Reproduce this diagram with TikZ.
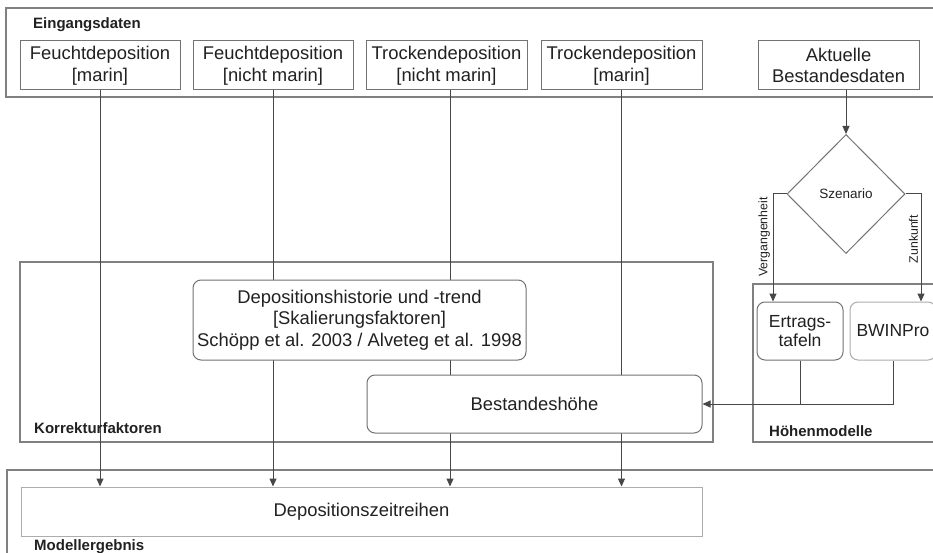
\documentclass[tikz,border=0pt]{standalone}
\usepackage{fontspec}
\setmainfont{Liberation Sans}
\usetikzlibrary{shapes.geometric,arrows.meta}
\pgfdeclarelayer{bg}
\pgfsetlayers{bg,main}
\definecolor{framec}{gray}{0.5}
\definecolor{boxc}{gray}{0.45}
\definecolor{lightc}{gray}{0.68}
\definecolor{linec}{gray}{0.28}
\definecolor{txtc}{gray}{0.13}
\newcommand\myboxfont{\fontsize{18.4}{21.5}\selectfont}
\newcommand\mysmallboxfont{\fontsize{17.5}{19}\selectfont}
\newcommand\mylblfont{\fontsize{15}{18}\selectfont\bfseries}
\newcommand\myszfont{\fontsize{13.5}{16}\selectfont}
\newcommand\myrotfont{\fontsize{12.3}{14}\selectfont}
\begin{document}
\begin{tikzpicture}[x=1pt,y=-1pt,
  box/.style={draw=boxc, fill=white, line width=1pt, inner sep=0pt, align=center, font=\myboxfont, text=txtc},
  rbox/.style={box, rounded corners=8pt},
  conn/.style={draw=linec, line width=1pt},
  arr/.style={conn, -{Triangle[length=8pt,width=7pt]}},
  frame/.style={draw=framec, line width=1.2pt},
  framelbl/.style={font=\mylblfont, text=txtc, anchor=west, inner sep=0pt},
  rotlbl/.style={font=\myrotfont, text=txtc, rotate=90, anchor=south, inner sep=2.5pt}]
\useasboundingbox (0,0) rectangle (933,553);
\clip (0,0) rectangle (933,553);

% input boxes
\node[box, minimum width=160pt, minimum height=49pt] (f1) at (100,65.5) {Feuchtdeposition\\{[marin]}};
\node[box, minimum width=160pt, minimum height=49pt] (f2) at (273,65.5) {Feuchtdeposition\\{[nicht marin]}};
\node[box, minimum width=161pt, minimum height=49pt] (f3) at (446.5,65.5) {Trockendeposition\\{[nicht marin]}};
\node[box, minimum width=161pt, minimum height=49pt] (f4) at (621.5,65.5) {Trockendeposition\\{[marin]}};
\node[box, minimum width=161pt, minimum height=49pt] (akt) at (838.5,65.5) {Aktuelle\\Bestandesdaten};

% scenario
\node[diamond, draw=boxc, fill=white, line width=1pt, minimum width=118pt, minimum height=119pt, inner sep=0pt, font=\myszfont, text=txtc] (sz) at (846,194) {Szenario};

% height models
\node[rbox, font=\mysmallboxfont, minimum width=86pt, minimum height=58pt] (ert) at (800,331) {Ertrags-\\tafeln};
\node[rbox, draw=lightc, font=\mysmallboxfont, minimum width=86pt, minimum height=58pt] (bw) at (893,331) {BWINPro};

% correction factors
\node[rbox, minimum width=333pt, minimum height=80pt] (dh) at (359.5,320) {Depositionshistorie und -trend\\{[Skalierungsfaktoren]}\\Schöpp et al. 2003 / Alveteg et al. 1998};
\node[rbox, minimum width=335pt, minimum height=58pt] (bh) at (534.5,404) {Bestandeshöhe};

% result
\node[box, draw=lightc, minimum width=681pt, minimum height=49pt] (dz) at (361.5,511.5) {Depositionszeitreihen};

% frame labels
\node[framelbl] (lE) at (33,25) {Eingangsdaten};
\node[framelbl] (lK) at (34,428) {Korrekturfaktoren};
\node[framelbl] (lH) at (769,431) {Höhenmodelle};
\node[framelbl] (lM) at (34,547) {Modellergebnis};

\coordinate (c3) at ([xshift=3.5pt]f3.south);

\begin{pgfonlayer}{bg}
\clip (0,0) rectangle (933,553);
\fill[white] (0,0) rectangle (933,553);
% frames
\draw[frame] (6,8) rectangle (950,97);
\draw[frame] (20,262) rectangle (713,442);
\draw[frame] (753,284) rectangle (950,442);
\draw[frame] (7,470) rectangle (950,570);
% connectors
\draw[arr] (f1.south) -- (f1.south |- dz.north);
\draw[arr] (f2.south) -- (f2.south |- dz.north);
\draw[arr] (c3) -- (c3 |- dz.north);
\draw[arr] (f4.south) -- (f4.south |- dz.north);
\draw[arr] (akt.south -| sz.north) -- (sz.north);
\draw[arr] (sz.west) -| node[rotlbl, pos=0.7] {Vergangenheit} ([xshift=-27pt]ert.north);
\draw[arr] (sz.east) -| node[rotlbl, pos=0.71] {Zunkunft} ([xshift=28pt]bw.north);
\draw[conn] (ert.south) -- (ert.south |- bh.east);
\draw[arr] (bw.south) |- (bh.east);
\end{pgfonlayer}
\end{tikzpicture}
\end{document}
